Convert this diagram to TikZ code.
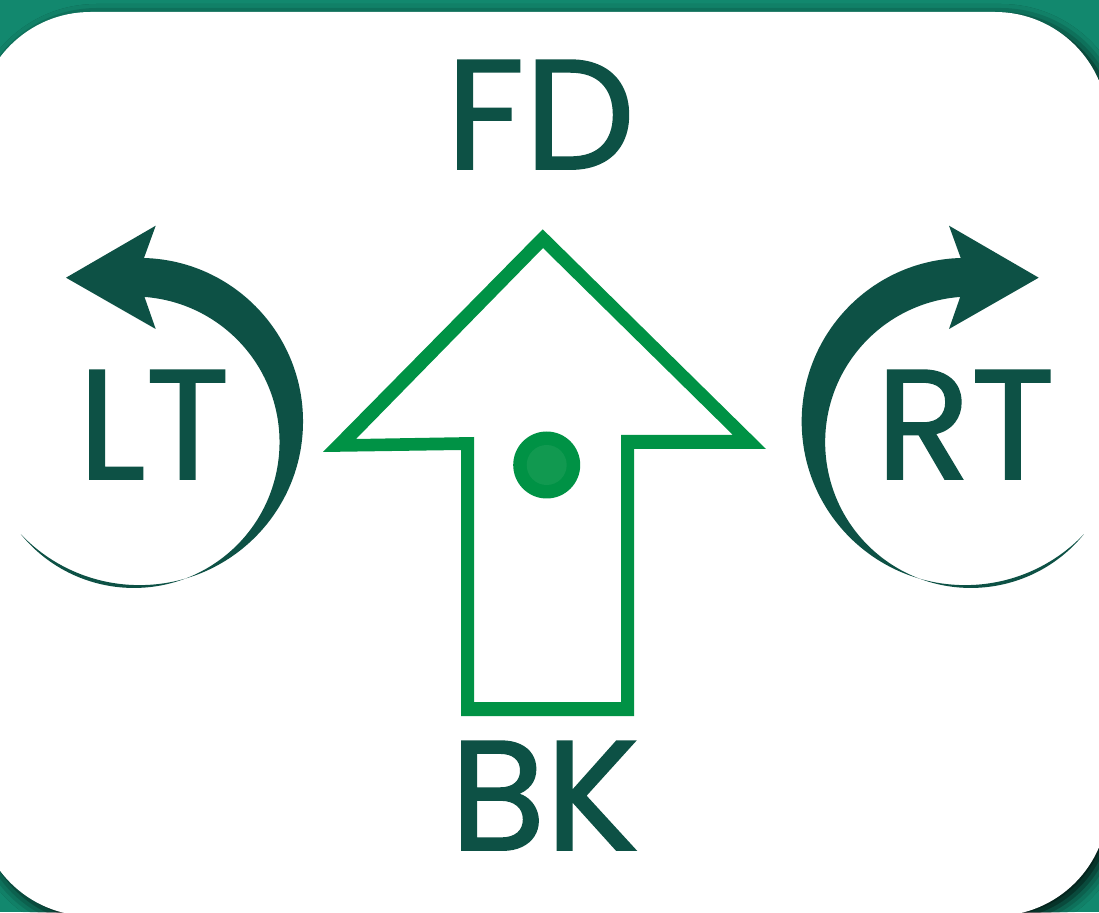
\documentclass[tikz,border=0pt]{standalone}
\usepackage{fontspec}
\setmainfont{Poppins}[FakeBold=1.2]
\usepackage{tikz}
\usetikzlibrary{shadows.blur}
\definecolor{bgteal}{RGB}{18,136,110}
\definecolor{pine}{RGB}{13,81,69}
\definecolor{leaf}{RGB}{0,146,69}
\definecolor{leaflight}{RGB}{17,153,80}

\begin{document}
\begin{tikzpicture}[x=0.5pt, y=0.5pt,
    every node/.style = {inner sep=0, anchor=base, text=pine,
      font=\fontsize{78}{78}\selectfont},
    card/.style = {fill=white, rounded corners=56.5pt,
      blur shadow={shadow xshift=3pt, shadow yshift=-3pt,
        shadow blur radius=7pt, shadow opacity=90}},
    turn/.style = {fill=pine}
    ]
    \useasboundingbox (0,0) rectangle (1099,912);
    \fill[bgteal] (0,0) rectangle (1099,912);
    \path[card] (-22.5,-4) rectangle (1108,900);

    % turning arrows, the right one mirrored
    \foreach \s/\dx in {1/0,-1/1104.7}{
      \begin{scope}[shift={(\dx,0)}, xscale=\s]
        \fill[turn] (144,654) arc[start angle=88.4, end angle=-136.5, radius=163.6]
          arc[start angle=-140.9, end angle=85.8, radius=145.7]
          -- (155.7,583) -- (66,634.3) -- (155.7,686.3) -- cycle;
      \end{scope}
    }

    % forward arrow
    \fill[leaf, even odd rule] (542.7,682.7) -- (766,463) -- (634,463) -- (634,196)
        -- (461,196) -- (461,462) -- (323,460) -- cycle
      (543,664) -- (733,477) -- (621,477) -- (621,210) -- (474,210)
        -- (474,475) -- (356,473) -- cycle;
    \fill[leaf] (546.7,447) circle[radius=33.5];
    \fill[leaflight] (546.7,447) circle[radius=20];

    \node (fd) at (540.5,743) {FD};
    \node (bk) at (544.5,62) {BK};
    \node (lt) at (154,433) {LT};
    \node (rt) at (965.5,433) {RT};
\end{tikzpicture}
\end{document}
